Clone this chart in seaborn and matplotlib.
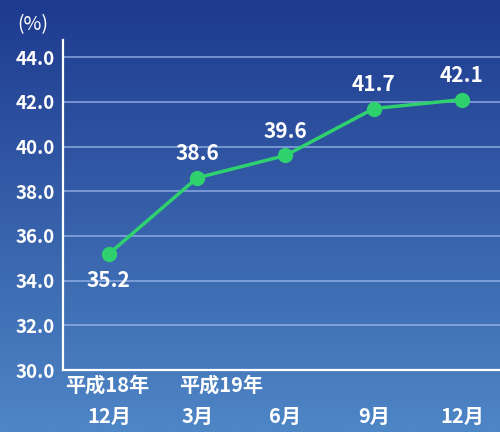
import numpy as np
import pandas as pd
import matplotlib
matplotlib.use("Agg")
import matplotlib.pyplot as plt
import matplotlib.transforms as mtransforms
import seaborn as sns

months = ["12月", "3月", "6月", "9月", "12月"]
year_labels = ["平成18年", "平成19年"]
values = [35.2, 38.6, 39.6, 41.7, 42.1]
yticks = [30.0, 32.0, 34.0, 36.0, 38.0, 40.0, 42.0, 44.0]

sns.set_theme(style="white")
plt.rcParams['font.family'] = ['Noto Sans CJK JP', 'DejaVu Sans']

fig = plt.figure(figsize=(5.0, 4.32), dpi=100)

# gradient background
bg = fig.add_axes([0, 0, 1, 1], zorder=-10)
top = np.array([30, 58, 142]) / 255.0
bot = np.array([78, 134, 198]) / 255.0
t = np.linspace(0, 1, 256)[:, None]
grad = top[None, :] * (1 - t) + bot[None, :] * t
bg.imshow(grad[:, None, :], aspect='auto', extent=[0, 1, 0, 1])
bg.set_axis_off()

ax = fig.add_axes([0.126, 0.1435, 0.874, 0.7635])
ax.patch.set_alpha(0)

df = pd.DataFrame({"x": np.arange(len(values)), "y": values})
green = "#2fd06e"
sns.lineplot(data=df, x="x", y="y", ax=ax, color=green, lw=2.5,
             marker="o", markersize=11, markeredgewidth=0, zorder=5)

ax.set_xlim(-0.52, 4.43)
ax.set_ylim(30, 44.76)
ax.set_yticks(yticks)
ax.set_yticklabels([f"{v:.1f}" for v in yticks], color="white",
                   fontsize=13.5, fontweight="bold")
ax.set_xticks(range(len(months)))
ax.set_xticklabels(months, color="white", fontsize=14.5, fontweight="bold")
ax.tick_params(axis='x', length=0, pad=26)
ax.tick_params(axis='y', length=0, pad=6)
ax.set_xlabel("")
ax.set_ylabel("")

for v in yticks[1:]:
    ax.axhline(v, color="#9bb8ec", lw=1.1, alpha=0.85, zorder=1)

for s in ["top", "right"]:
    ax.spines[s].set_visible(False)
for s in ["left", "bottom"]:
    ax.spines[s].set_color("white")
    ax.spines[s].set_linewidth(1.6)

for i, v in enumerate(values):
    off = -19.5 if i == 0 else 17.5
    ax.annotate(f"{v:.1f}", (i, v), xytext=(0, off), textcoords="offset points",
                ha="center", va="center", color="white", fontsize=15,
                fontweight="bold", zorder=6)

trans = mtransforms.blended_transform_factory(ax.transData, ax.transAxes)
for xd, lab in zip([-0.02, 1.27], year_labels):
    ax.text(xd, -0.047, lab, transform=trans, ha="center", va="center",
            color="white", fontsize=14.5, fontweight="bold")

fig.text(0.066, 0.942, "(%)", color="white", fontsize=14, ha="center", va="center")

fig.savefig("out.png", dpi=100)
